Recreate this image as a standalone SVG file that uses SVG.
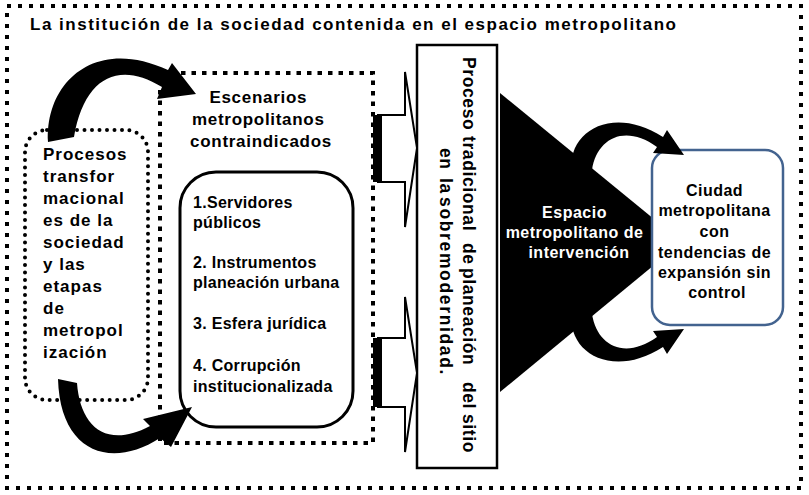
<svg xmlns="http://www.w3.org/2000/svg" width="809" height="495" viewBox="0 0 809 495">
<style>
.t{font-family:"Liberation Sans",Arial,sans-serif;font-weight:bold;fill:#000}
.w{fill:#fff}
.sq{fill:none;stroke:#000;stroke-width:4}
.blk{fill:#000;stroke:none}
.ba{fill:#fff;stroke:#000;stroke-width:2;stroke-linejoin:miter}
</style>
<rect width="809" height="495" fill="#fff"/>
<g id="frame">
<rect class="sq" x="7" y="6" width="794" height="482" stroke-dasharray="4 7"/>
<text class="t" x="30" y="30" font-size="17" textLength="646" lengthAdjust="spacing">La institución de la sociedad contenida en el espacio metropolitano</text>
</g>
<g id="procesos">
<rect x="25" y="130" width="123" height="270" rx="22" fill="none" stroke="#000" stroke-width="4" stroke-linecap="round" stroke-dasharray="0 7.5"/>
<text class="t" font-size="17" letter-spacing="1">
<tspan x="43" y="160">Procesos</tspan>
<tspan x="43" y="182">transfor</tspan>
<tspan x="43" y="204">macional</tspan>
<tspan x="43" y="226">es de la</tspan>
<tspan x="43" y="248">sociedad</tspan>
<tspan x="43" y="270">y las</tspan>
<tspan x="43" y="292">etapas</tspan>
<tspan x="43" y="314">de</tspan>
<tspan x="43" y="336">metropol</tspan>
<tspan x="43" y="358">ización</tspan>
</text>
</g>
<g id="escenarios">
<rect class="sq" x="160" y="73" width="213" height="370" stroke-dasharray="4.5 6"/>
<text class="t" font-size="17" letter-spacing="0.7" text-anchor="middle">
<tspan x="261" y="103">Escenarios</tspan>
<tspan x="261" y="125">metropolitanos</tspan>
<tspan x="261" y="147">contraindicados</tspan>
</text>
<rect x="180" y="172" width="173" height="255" rx="36" fill="none" stroke="#000" stroke-width="3"/>
<text class="t" font-size="16" letter-spacing="0.3">
<tspan x="193" y="208">1.Servidores</tspan>
<tspan x="193" y="228">públicos</tspan>
<tspan x="193" y="268">2. Instrumentos</tspan>
<tspan x="193" y="288">planeación urbana</tspan>
<tspan x="193" y="329">3. Esfera jurídica</tspan>
<tspan x="193" y="371">4. Corrupción</tspan>
<tspan x="193" y="392">institucionalizada</tspan>
</text>
</g>
<g id="proceso-tradicional">
<rect x="417" y="45" width="80" height="423" fill="#fff" stroke="#000" stroke-width="2.5"/>
<text class="t" font-size="17.5" letter-spacing="0.6" transform="rotate(90)">
<tspan x="57" y="-463">Proceso</tspan><tspan x="136" y="-463">tradicional</tspan><tspan x="243" y="-463">de</tspan><tspan x="268" y="-463">planeación</tspan><tspan x="382" y="-463">del</tspan><tspan x="414" y="-463">sitio</tspan>
<tspan x="148" y="-440">en</tspan><tspan x="178" y="-440">la</tspan><tspan x="197" y="-440" textLength="178" lengthAdjust="spacing">sobremodernidad.</tspan>
</text>
</g>
<g id="espacio">
<polygon class="blk" points="500,93 500,392 682,242"/>
<text class="t w" font-size="16" letter-spacing="0.5" text-anchor="middle">
<tspan x="577" y="218">Espacio</tspan>
<tspan x="577" y="238">metropolitano de</tspan>
<tspan x="579" y="258">intervención</tspan>
</text>
</g>
<g id="ciudad">
<rect x="652" y="150" width="131" height="175" rx="18" fill="#fff" stroke="#43638f" stroke-width="2.5"/>
<text class="t" font-size="16" letter-spacing="0.5" text-anchor="middle">
<tspan x="717" y="196">Ciudad</tspan>
<tspan x="717" y="216">metropolitana</tspan>
<tspan x="717" y="237">con</tspan>
<tspan x="717" y="258">tendencias de</tspan>
<tspan x="717" y="278">expansión sin</tspan>
<tspan x="717" y="298">control</tspan>
</text>
</g>
<g id="connectors">
<path class="blk" d="M48 142 C45 82 95 36 168 70 L172 63 L196 94 L157 99 L162 87 C118 60 84 78 74 137 Z"/>
<path class="blk" d="M58 379 L77 383 C80 425 105 450 150 426 L143 419 L192 407 L171 447 L160 438 C110 470 60 452 58 379 Z"/>
<polygon class="ba" points="378,115 405,115 405,72 417,148 405,227 405,182 378,182"/>
<rect class="blk" x="373" y="115" width="9" height="67"/>
<polygon class="ba" points="378,338 405,338 405,297 417,373 405,452 405,407 378,407"/>
<rect class="blk" x="373" y="338" width="9" height="69"/>
<path class="blk" d="M572 172 C566 132 612 104 663 137 L667 130 L684 155 L653 153 L657 147 C625 124 597 138 592 170 Z"/>
<path class="blk" d="M572 312 C566 352 612 380 663 347 L667 354 L684 329 L653 331 L657 337 C625 360 597 346 592 314 Z"/>
</g>
</svg>
